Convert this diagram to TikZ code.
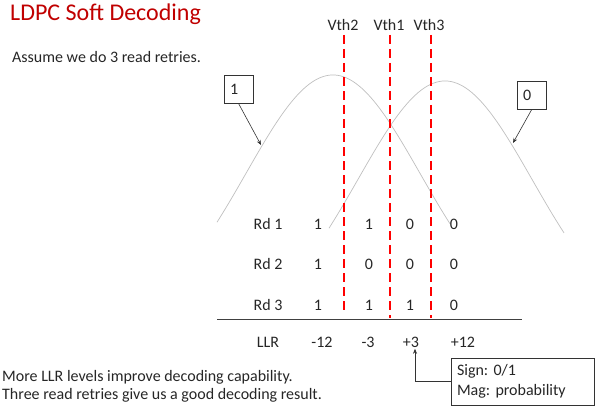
\documentclass[tikz,border=0pt]{standalone}
\usepackage{fontspec}
\setmainfont{Carlito}
\frenchspacing
\usetikzlibrary{arrows.meta}
\definecolor{titlered}{RGB}{192,0,0}
\definecolor{vthred}{RGB}{255,0,0}
\definecolor{bellgray}{RGB}{191,191,191}
\definecolor{textgray}{RGB}{38,38,38}

\begin{document}
\begin{tikzpicture}[x=1pt, y=-1pt, font=\fontsize{16}{18}\selectfont, text=textgray,
    bellcurve/.style={bellgray, line width=0.7pt},
    vthline/.style={vthred, line width=2.2pt, dash pattern=on 9pt off 5pt},
    tagbox/.style={draw=black!80, line width=0.8pt, minimum height=28pt, text width=17pt, inner xsep=6pt, align=left},
    pointer/.style={-{Stealth[length=5pt, width=4pt]}, line width=0.6pt, black!80}]
    \useasboundingbox (0, 0) rectangle (596, 409);

    \node[anchor=west, inner sep=0pt, text=titlered, font=\fontsize{24}{26}\selectfont] (title) at (10, 14) {LDPC Soft Decoding};
    \node[anchor=west, inner sep=0pt] (assume) at (12, 57) {Assume we do 3 read retries.};

    % two read distributions
    \draw[bellcurve, domain=217:450, samples=80] plot (\x, {75 + 250*(1 - exp(-((\x-333)/87)^2/2))});
    \draw[bellcurve, domain=329:564, samples=80] plot (\x, {81 + 250*(1 - exp(-((\x-445)/87)^2/2))});

    \node[tagbox] (tag1) at (238.5, 89) {1};
    \node[tagbox] (tag0) at (531.5, 95.5) {0};
    \coordinate (bell1) at (261, 145);
    \coordinate (bell0) at (513, 143);
    \draw[pointer] (tag1.south) -- (bell1);
    \draw[pointer] (tag0.south) -- (bell0);

    % read thresholds
    \node (vth2) at (343, 25) {Vth2};
    \node (vth1) at (389, 25) {Vth1};
    \node (vth3) at (429, 25) {Vth3};
    \coordinate (vth2end) at (344, 310);
    \coordinate (vth1end) at (390, 318);
    \coordinate (vth3end) at (431, 318);
    \draw[vthline] (344, 35) -- (vth2end);
    \draw[vthline] (390, 35) -- (vth1end);
    \draw[vthline] (431, 35) -- (vth3end);

    % read results
    \node (rd1) at (268, 224) {Rd 1};
    \node (rd1a) at (318, 224) {1};
    \node (rd1b) at (369, 224) {1};
    \node (rd1c) at (410, 224) {0};
    \node (rd1d) at (454, 224) {0};

    \node (rd2) at (268, 264) {Rd 2};
    \node (rd2a) at (318, 264) {1};
    \node (rd2b) at (369, 264) {0};
    \node (rd2c) at (410, 264) {0};
    \node (rd2d) at (454, 264) {0};

    \node (rd3) at (268, 305) {Rd 3};
    \node (rd3a) at (318, 305) {1};
    \node (rd3b) at (369, 305) {1};
    \node (rd3c) at (410, 305) {1};
    \node (rd3d) at (454, 305) {0};

    \coordinate (rule0) at (217, 319);
    \coordinate (rule1) at (522, 319);
    \draw[black!75, line width=0.8pt] (rule0) -- (rule1);

    \node (llr) at (268, 342) {LLR};
    \node (llra) at (322, 342) {-12};
    \node (llrb) at (368, 342) {-3};
    \node (llrc) at (411, 342) {+3};
    \node (llrd) at (463, 342) {+12};

    \node[draw=black!80, line width=0.8pt, minimum width=143pt, minimum height=47pt, text width=131pt, inner xsep=6pt, align=left, font=\fontsize{16}{20}\selectfont] (sign) at (522.5, 381.5) {Sign: 0/1\\Mag: probability};
    \draw[pointer] (sign.west) -| ([xshift=4pt, yshift=2pt]llrc.south);

    \node[anchor=west, inner sep=0pt, align=left] (note) at (2, 386) {More LLR levels improve decoding capability.\\Three read retries give us a good decoding result.};
\end{tikzpicture}
\end{document}
